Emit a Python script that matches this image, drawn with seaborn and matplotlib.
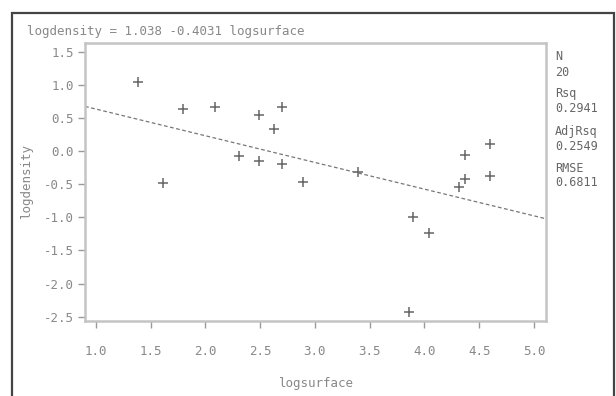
import matplotlib
matplotlib.use("Agg")
import matplotlib.pyplot as plt
import matplotlib.patches as patches
import seaborn as sns
import numpy as np
import pandas as pd

# data
logsurface = [1.39, 1.80, 2.09, 2.49, 2.70, 2.63, 2.31, 2.49, 2.70, 2.89,
              1.61, 3.39, 3.90, 4.04, 3.86, 4.32, 4.37, 4.37, 4.60, 4.60]
logdensity = [1.04, 0.63, 0.66, 0.55, 0.66, 0.34, -0.07, -0.15, -0.19, -0.46,
              -0.48, -0.32, -0.99, -1.23, -2.43, -0.54, -0.42, -0.06, 0.11, -0.38]
intercept = 1.038
slope = -0.4031
x_ticks = [1.0, 1.5, 2.0, 2.5, 3.0, 3.5, 4.0, 4.5, 5.0]
y_ticks = [1.5, 1.0, 0.5, 0.0, -0.5, -1.0, -1.5, -2.0, -2.5]
stat_labels = ["N", "Rsq", "AdjRsq", "RMSE"]
stat_values = ["20", "0.2941", "0.2549", "0.6811"]

df = pd.DataFrame({"logsurface": logsurface, "logdensity": logdensity})

sns.set_style("white")
plt.rcParams['font.family'] = ['DejaVu Sans Mono']

fig = plt.figure(figsize=(6.16, 3.96), dpi=100)
ax = fig.add_axes([85 / 616, 1 - 321 / 396, 461 / 616, 278.3 / 396])

xlim = (0.902, 5.11)
ylim = (-2.565, 1.636)

# fitted line across the whole axis
xs = np.array(xlim)
sns.lineplot(x=xs, y=intercept + slope * xs, ax=ax, color="#777777",
             linewidth=0.9, linestyle=(0, (3, 2)))

sns.scatterplot(data=df, x="logsurface", y="logdensity", ax=ax, marker="+",
                s=55, linewidth=1.1, color="#666666")

ax.set_xlim(*xlim)
ax.set_ylim(*ylim)
ax.set_xticks(x_ticks)
ax.set_yticks(y_ticks)
ax.set_xticklabels([f"{v:.1f}" for v in x_ticks])
ax.set_yticklabels([f"{v:.1f}" for v in y_ticks])
ax.tick_params(axis="both", direction="out", length=5, width=1,
               color="#999999", labelcolor="#888888", labelsize=9, pad=3,
               bottom=True, left=True)
ax.tick_params(axis="x", pad=12)
ax.set_xlabel("logsurface", color="#888888", fontsize=9, labelpad=14)
ax.set_ylabel("logdensity", color="#888888", fontsize=9, labelpad=8)
for s in ax.spines.values():
    s.set_visible(True)
    s.set_color("#c4c4c4")
    s.set_linewidth(1.8)

fig.text(27 / 616, 1 - 31.5 / 396, f"logdensity = {intercept} {slope} logsurface",
         color="#888888", fontsize=9, va="center", ha="left")

stat_y = [57, 93, 131, 168]
for lab, val, y in zip(stat_labels, stat_values, stat_y):
    fig.text(555 / 616, 1 - y / 396, lab, color="#666666", fontsize=8.5,
             va="center", ha="left")
    fig.text(555 / 616, 1 - (y + 15) / 396, val, color="#666666", fontsize=8.5,
             va="center", ha="left")

# outer frame
fig.patches.append(patches.Rectangle((12 / 616, -0.02), 602 / 616, 1.02 - 13 / 396,
                                     fill=False, edgecolor="#444444", linewidth=1.6,
                                     transform=fig.transFigure, figure=fig))

fig.savefig("out.png", dpi=100)
